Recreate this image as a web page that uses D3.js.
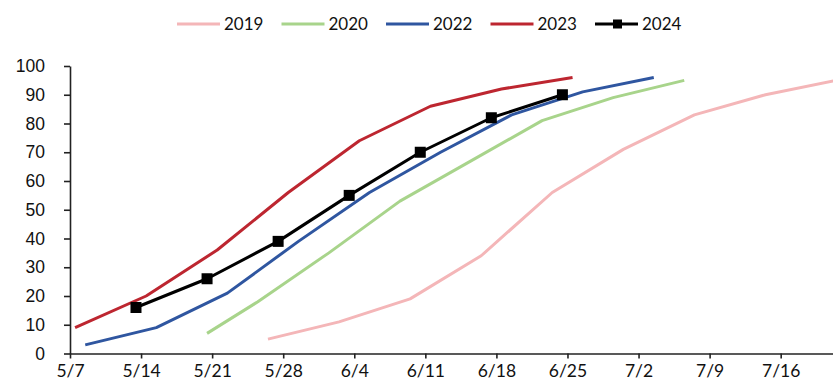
<!DOCTYPE html>
<html>
<head>
<meta charset="utf-8">
<script src="https://cdn.jsdelivr.net/npm/d3@7/dist/d3.min.js"></script>
<style>
  html, body { margin: 0; padding: 0; background: #fff; }
  svg { display: block; }
</style>
</head>
<body>
<svg id="chart" width="833" height="384"></svg>
<script>
// Weekly progress (%) by date, one series per year
const years = ["2019", "2020", "2022", "2023", "2024"];

const dates2019 = ["5/26", "6/2", "6/9", "6/16", "6/23", "6/30", "7/7", "7/14", "7/21"];
const values2019 = [5, 11, 19, 34, 56, 71, 83, 90, 95];

const dates2020 = ["5/20", "5/25", "6/1", "6/8", "6/15", "6/22", "6/29", "7/6"];
const values2020 = [7, 18, 35, 53, 67, 81, 89, 95];

const dates2022 = ["5/8", "5/15", "5/22", "5/29", "6/5", "6/12", "6/19", "6/26", "7/3"];
const values2022 = [3, 9, 21, 39, 56, 70, 83, 91, 96];

const dates2023 = ["5/7", "5/14", "5/21", "5/28", "6/4", "6/11", "6/18", "6/25"];
const values2023 = [9, 20, 36, 56, 74, 86, 92, 96];

const dates2024 = ["5/13", "5/20", "5/27", "6/3", "6/10", "6/17", "6/24"];
const values2024 = [16, 26, 39, 55, 70, 82, 90];

const xTickLabels = ["5/7", "5/14", "5/21", "5/28", "6/4", "6/11", "6/18", "6/25", "7/2", "7/9", "7/16"];
const yTickValues = [0, 10, 20, 30, 40, 50, 60, 70, 80, 90, 100];

const colors = {
  "2019": "#F4B6B8",
  "2020": "#A8D48B",
  "2022": "#2F56A0",
  "2023": "#BD2630",
  "2024": "#000000"
};

const seriesDates = { "2019": dates2019, "2020": dates2020, "2022": dates2022, "2023": dates2023, "2024": dates2024 };
const seriesValues = { "2019": values2019, "2020": values2020, "2022": values2022, "2023": values2023, "2024": values2024 };

// Month/day string -> Date on a common calendar year
const parseMD = s => { const [m, d] = s.split("/").map(Number); return new Date(2001, m - 1, d); };
const DAY = 24 * 3600 * 1000;

const svg = d3.select("#chart");

const x = d3.scaleTime()
  .domain([parseMD("5/7"), parseMD("7/22")])
  .range([70, 841.6]);
// points sit in the middle of their day
const xPt = s => x(new Date(parseMD(s).getTime() + DAY / 2));

const y = d3.scaleLinear().domain([0, 100]).range([353.5, 66]);

const labelFont = "Lato, 'Open Sans', sans-serif";

// Y axis
const yAxis = svg.append("g")
  .attr("transform", "translate(70,0)")
  .call(d3.axisLeft(y).tickValues(yTickValues).tickSize(6).tickSizeOuter(0).tickPadding(19));
yAxis.selectAll("text")
  .attr("font-family", "'Liberation Sans', Arial, sans-serif")
  .attr("font-size", 17.5)
  .attr("fill", "#111");

// X axis
const xAxis = svg.append("g")
  .attr("transform", "translate(0,353.5)")
  .call(d3.axisBottom(x)
    .tickValues(xTickLabels.map(parseMD))
    .tickFormat(d => (d.getMonth() + 1) + "/" + d.getDate())
    .tickSize(5).tickSizeOuter(0).tickPadding(6));
xAxis.selectAll("text")
  .attr("font-family", labelFont)
  .attr("font-size", 17.5)
  .attr("fill", "#111");

svg.selectAll(".domain, .tick line")
  .attr("stroke", "#222")
  .attr("stroke-width", 1.6);

// Series lines
const line = d3.line()
  .x(d => xPt(d.date))
  .y(d => y(d.value));

years.forEach(yr => {
  const pts = seriesDates[yr].map((d, i) => ({ date: d, value: seriesValues[yr][i] }));
  svg.append("path")
    .datum(pts)
    .attr("fill", "none")
    .attr("stroke", colors[yr])
    .attr("stroke-width", 3)
    .attr("stroke-linejoin", "round")
    .attr("d", line);
  if (yr === "2024") {
    svg.selectAll(".m2024")
      .data(pts)
      .enter().append("rect")
      .attr("class", "m2024")
      .attr("x", d => xPt(d.date) - 5.5)
      .attr("y", d => y(d.value) - 5.5)
      .attr("width", 11)
      .attr("height", 11)
      .attr("fill", "#000");
  }
});

// Legend
const legend = svg.append("g");
const legX0 = 177, legStep = 104.5, legY = 24;
years.forEach((yr, i) => {
  const gx = legX0 + i * legStep;
  legend.append("line")
    .attr("x1", gx).attr("x2", gx + 43)
    .attr("y1", legY).attr("y2", legY)
    .attr("stroke", colors[yr])
    .attr("stroke-width", 3);
  if (yr === "2024") {
    legend.append("rect")
      .attr("x", gx + 18).attr("y", legY - 4.5)
      .attr("width", 9).attr("height", 9)
      .attr("fill", "#000");
  }
  legend.append("text")
    .attr("x", gx + 47)
    .attr("y", legY + 6)
    .attr("font-family", labelFont)
    .attr("font-size", 17)
    .attr("fill", "#111")
    .text(yr);
});
</script>
</body>
</html>
